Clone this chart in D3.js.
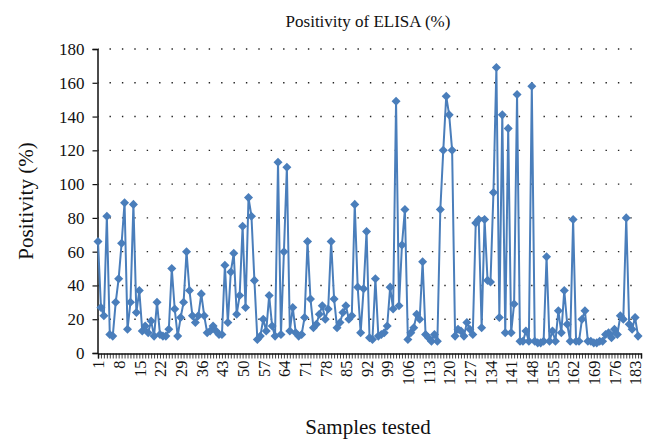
<!DOCTYPE html>
<html><head><meta charset="utf-8">
<script src="https://cdn.jsdelivr.net/npm/d3@7/dist/d3.min.js"></script>
<style>body{margin:0;background:#fff}svg{display:block}text{font-family:"Liberation Serif","Times New Roman",serif;fill:#111}</style>
</head><body><svg id="c" width="658" height="447"></svg>
<script>
const title = "Positivity of ELISA (%)";
const xTitle = "Samples tested";
const yTitle = "Positivity (%)";
const yTicks = [0,20,40,60,80,100,120,140,160,180];
const xTickLabels = [1,8,15,22,29,36,43,50,57,64,71,78,85,92,99,106,113,120,127,134,141,148,155,162,169,176,183];
const values = [
66,27,22,81,11,10,30,44,65,89,14,30,88,24,37,13,16,12,19,10,
30,11,10,10,14,50,26,10,21,30,60,37,22,18,22,35,22,12,13,16,
13,11,11,52,18,48,59,23,34,75,27,92,81,43,8,10,20,13,34,16,
10,113,11,60,110,13,27,12,10,11,21,66,32,15,17,23,28,20,26,66,
32,15,18,24,28,20,22,88,39,12,38,72,9,8,44,10,11,12,16,39,
26,149,28,64,85,8,12,15,23,20,54,11,9,7,11,7,85,120,152,141,
120,10,14,13,10,18,14,11,77,79,15,79,43,42,95,169,21,141,12,133,
12,29,153,7,7,13,7,158,7,6,6,7,57,7,13,7,25,12,37,17,
7,79,7,7,20,25,7,7,6,6,7,7,11,12,9,14,11,22,20,80,
17,14,21,10
];
const categories = d3.range(1, values.length + 2);

const svg = d3.select("#c");
const m = {l:98, r:641, t:49, b:353};
const x = d3.scaleLinear().domain([1, categories.length]).range([m.l, m.r]);
const y = d3.scaleLinear().domain([0,180]).range([m.b, m.t]);
const blue = "#4a7ebb";

// gridlines
svg.append("g").selectAll("line").data(yTicks.filter(d=>d>0)).join("line")
  .attr("x1", m.l).attr("x2", m.r).attr("y1", d=>y(d)).attr("y2", d=>y(d))
  .attr("stroke","#222").attr("stroke-width",1.4).attr("stroke-dasharray","1.4 11")
  .attr("stroke-dashoffset",-11.5);

// y axis
const ya = svg.append("g").attr("transform",`translate(${m.l-0.5},0)`)
  .call(d3.axisLeft(y).tickValues(yTicks).tickSize(5).tickPadding(8));
ya.select(".domain").attr("stroke","#111").attr("stroke-width",1.5);
ya.selectAll(".tick line").attr("stroke","#111").attr("stroke-width",1.2);
ya.selectAll(".tick text").style("font-size","17px").attr("fill","#111");

// x axis
const xa = svg.append("g").attr("transform",`translate(0,${m.b+0.5})`)
  .call(d3.axisBottom(x).tickValues(categories).tickSize(5).tickFormat(d=>xTickLabels.includes(d)?d:""));
xa.select(".domain").attr("stroke","#111").attr("stroke-width",1.5);
xa.selectAll(".tick line").attr("stroke","#111").attr("stroke-width",0.8);
xa.selectAll(".tick text").style("font-size","16.5px").attr("fill","#111")
  .attr("transform","rotate(-90)").attr("text-anchor","end").attr("dy","0.35em").attr("x",-7).attr("y",0);

// line + markers
const line = d3.line().x((d,i)=>x(i+1)).y(d=>y(d));
svg.append("path").datum(values).attr("d",line).attr("fill","none")
  .attr("stroke",blue).attr("stroke-width",2).attr("stroke-linejoin","round");
svg.append("g").selectAll("path").data(values).join("path")
  .attr("d", d3.symbol(d3.symbolDiamond2, 52))
  .attr("transform",(d,i)=>`translate(${x(i+1)},${y(d)})`)
  .attr("fill",blue);

// titles
svg.append("text").attr("x",368).attr("y",27).attr("text-anchor","middle").style("font-size","17px").text(title);
svg.append("text").attr("x",368).attr("y",434).attr("text-anchor","middle").style("font-size","21px").text(xTitle);
svg.append("text").attr("transform","translate(33,201) rotate(-90)").attr("text-anchor","middle").style("font-size","21px").text(yTitle);
</script></body></html>
